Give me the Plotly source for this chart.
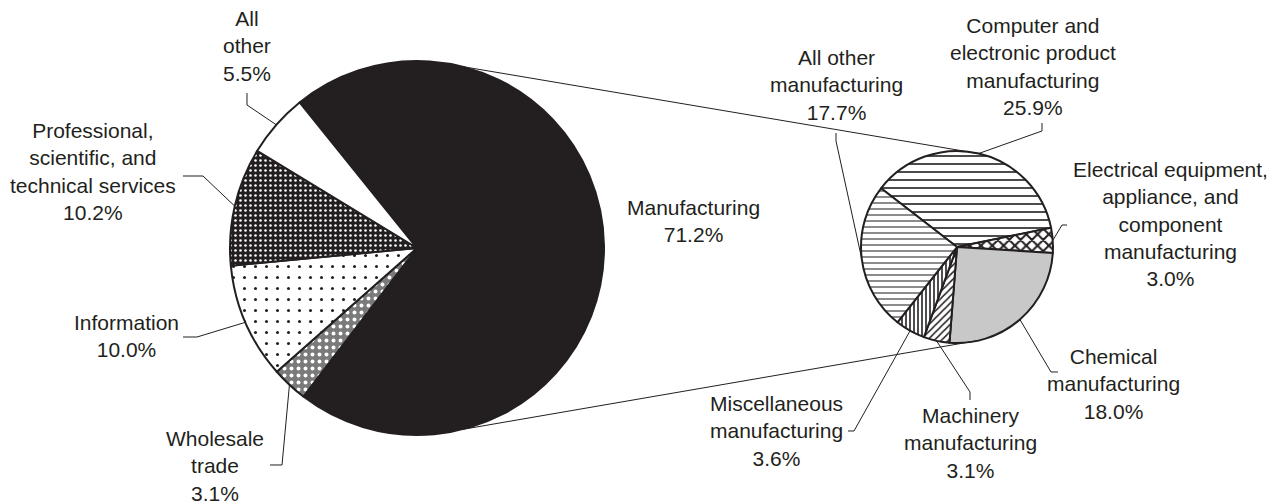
import math
import plotly.graph_objects as go

# ---------------- data ----------------
big_labels = ["Manufacturing", "Wholesale trade", "Information",
              "Professional, scientific, and technical services", "All other"]
big_values = [71.2, 3.1, 10.0, 10.2, 5.5]
big_text = ["Manufacturing<br>71.2%", "Wholesale<br>trade<br>3.1%", "Information<br>10.0%",
            "Professional,<br>scientific, and<br>technical services<br>10.2%", "All<br>other<br>5.5%"]

small_labels = ["Computer and electronic product manufacturing",
                "Electrical equipment, appliance, and component manufacturing",
                "Chemical manufacturing", "Machinery manufacturing",
                "Miscellaneous manufacturing", "All other manufacturing"]
small_values = [25.9, 3.0, 18.0, 3.1, 3.6, 17.7]
small_text = ["Computer and<br>electronic product<br>manufacturing<br>25.9%",
              "Electrical equipment,<br>appliance, and<br>component<br>manufacturing<br>3.0%",
              "Chemical<br>manufacturing<br>18.0%",
              "Machinery<br>manufacturing<br>3.1%",
              "Miscellaneous<br>manufacturing<br>3.6%",
              "All other<br>manufacturing<br>17.7%"]

# ---------------- layout constants (screen pixels) ----------------
PAGE_OFF = 8                 # default body margin of the html page
FW, FH = 1271, 496           # figure size so that it fits in the window
INK = "#231f20"
FONT = "Liberation Sans, Arial, sans-serif"
BIG_C, BIG_R, BIG_START = (417, 248), 187, 128.9
SM_C, SM_R, SM_START = (957, 247), 96, 142.3
CONNECT_ANGLE = 76

# label block centres and leader elbows (screen pixels)
big_label_pos = [(693, 221), (215, 466), (126, 336), (93, 171), (247, 46)]
big_elbows = [None, [(270, 465), (282, 465)], [(183, 337), (197, 337)],
              [(183, 176), (203, 176)], [(247, 93), (247, 105)]]
small_label_pos = [(1033, 66), (1170, 224), (1113, 384), (970, 443), (777, 431), (836, 85)]
small_elbows = [[(1042, 123), (1042, 131)], [(1067, 225), (1062, 225)],
                [(1058, 372), (1051, 372)], [(970, 400), (970, 392)],
                [(848, 431), (854, 431)], [(836, 133), (836, 141)]]


def px(x):
    return (x - PAGE_OFF) / FW


def py(y):
    return 1 - (y - PAGE_OFF) / FH


def domain(c, r):
    return dict(x=[px(c[0] - r), px(c[0] + r)], y=[py(c[1] + r), py(c[1] - r)])


def mid_angle(values, i, start):
    tot = sum(values)
    frac = (sum(values[:i]) + values[i] / 2) / tot
    return start - frac * 360


def edge(c, r, ang):
    a = math.radians(ang)
    return (c[0] + r * math.cos(a), c[1] - r * math.sin(a))


fig = go.Figure()

fig.add_trace(go.Pie(
    labels=big_labels, values=big_values, sort=False, direction="clockwise",
    rotation=-(BIG_START - 90), textinfo="none", hoverinfo="label+percent",
    domain=domain(BIG_C, BIG_R), showlegend=False,
    marker=dict(
        colors=[INK, "#8a8a8a", "white", INK, "white"],
        line=dict(color=INK, width=2),
        pattern=dict(
            shape=["", ".", ".", ".", ""],
            fgcolor=[INK, "white", INK, "white", INK],
            bgcolor=[INK, "#7a7a7a", "white", INK, "white"],
            size=[8, 7, 11, 5, 8],
            solidity=[0.3, 0.25, 0.06, 0.2, 0.3],
            fillmode="replace",
        ),
    ),
))

fig.add_trace(go.Pie(
    labels=small_labels, values=small_values, sort=False, direction="clockwise",
    rotation=-(SM_START - 90), textinfo="none", hoverinfo="label+value",
    domain=domain(SM_C, SM_R), showlegend=False,
    marker=dict(
        colors=["white", "white", "#c8c8c8", "white", "white", "white"],
        line=dict(color=INK, width=2),
        pattern=dict(
            shape=["-", "x", "", "/", "|", "-"],
            fgcolor=["#333333", INK, "#c8c8c8", INK, INK, "#666666"],
            bgcolor=["white", "white", "#c8c8c8", "white", "white", "white"],
            size=[8, 8, 8, 5, 4, 6],
            solidity=[0.22, 0.45, 0.3, 0.3, 0.4, 0.25],
            fillmode="replace",
        ),
    ),
))

shapes = []


def seg(points):
    path = "M " + " L ".join(f"{px(x):.5f},{py(y):.5f}" for x, y in points)
    shapes.append(dict(type="path", path=path, xref="paper", yref="paper",
                       line=dict(color=INK, width=1), layer="above"))


# connector lines between the pies
for sgn in (1, -1):
    p1 = edge(BIG_C, BIG_R, sgn * CONNECT_ANGLE)
    p2 = edge(SM_C, SM_R, sgn * CONNECT_ANGLE)
    seg([p1, p2])

annotations = []
for i, txt in enumerate(big_text):
    x, y = big_label_pos[i]
    annotations.append(dict(text=txt, x=px(x), y=py(y), xref="paper", yref="paper",
                            xanchor="center", yanchor="middle", showarrow=False,
                            font=dict(family=FONT, size=21, color=INK)))
    if big_elbows[i]:
        seg(big_elbows[i] + [edge(BIG_C, BIG_R, mid_angle(big_values, i, BIG_START))])

for i, txt in enumerate(small_text):
    x, y = small_label_pos[i]
    annotations.append(dict(text=txt, x=px(x), y=py(y), xref="paper", yref="paper",
                            xanchor="center", yanchor="middle", showarrow=False,
                            font=dict(family=FONT, size=21, color=INK)))
    if small_elbows[i]:
        seg(small_elbows[i] + [edge(SM_C, SM_R, mid_angle(small_values, i, SM_START))])

fig.update_layout(
    width=FW, height=FH, margin=dict(l=0, r=0, t=0, b=0),
    paper_bgcolor="white", plot_bgcolor="white",
    shapes=shapes, annotations=annotations,
    font=dict(family=FONT, color=INK),
)

fig.write_html("out.html")
